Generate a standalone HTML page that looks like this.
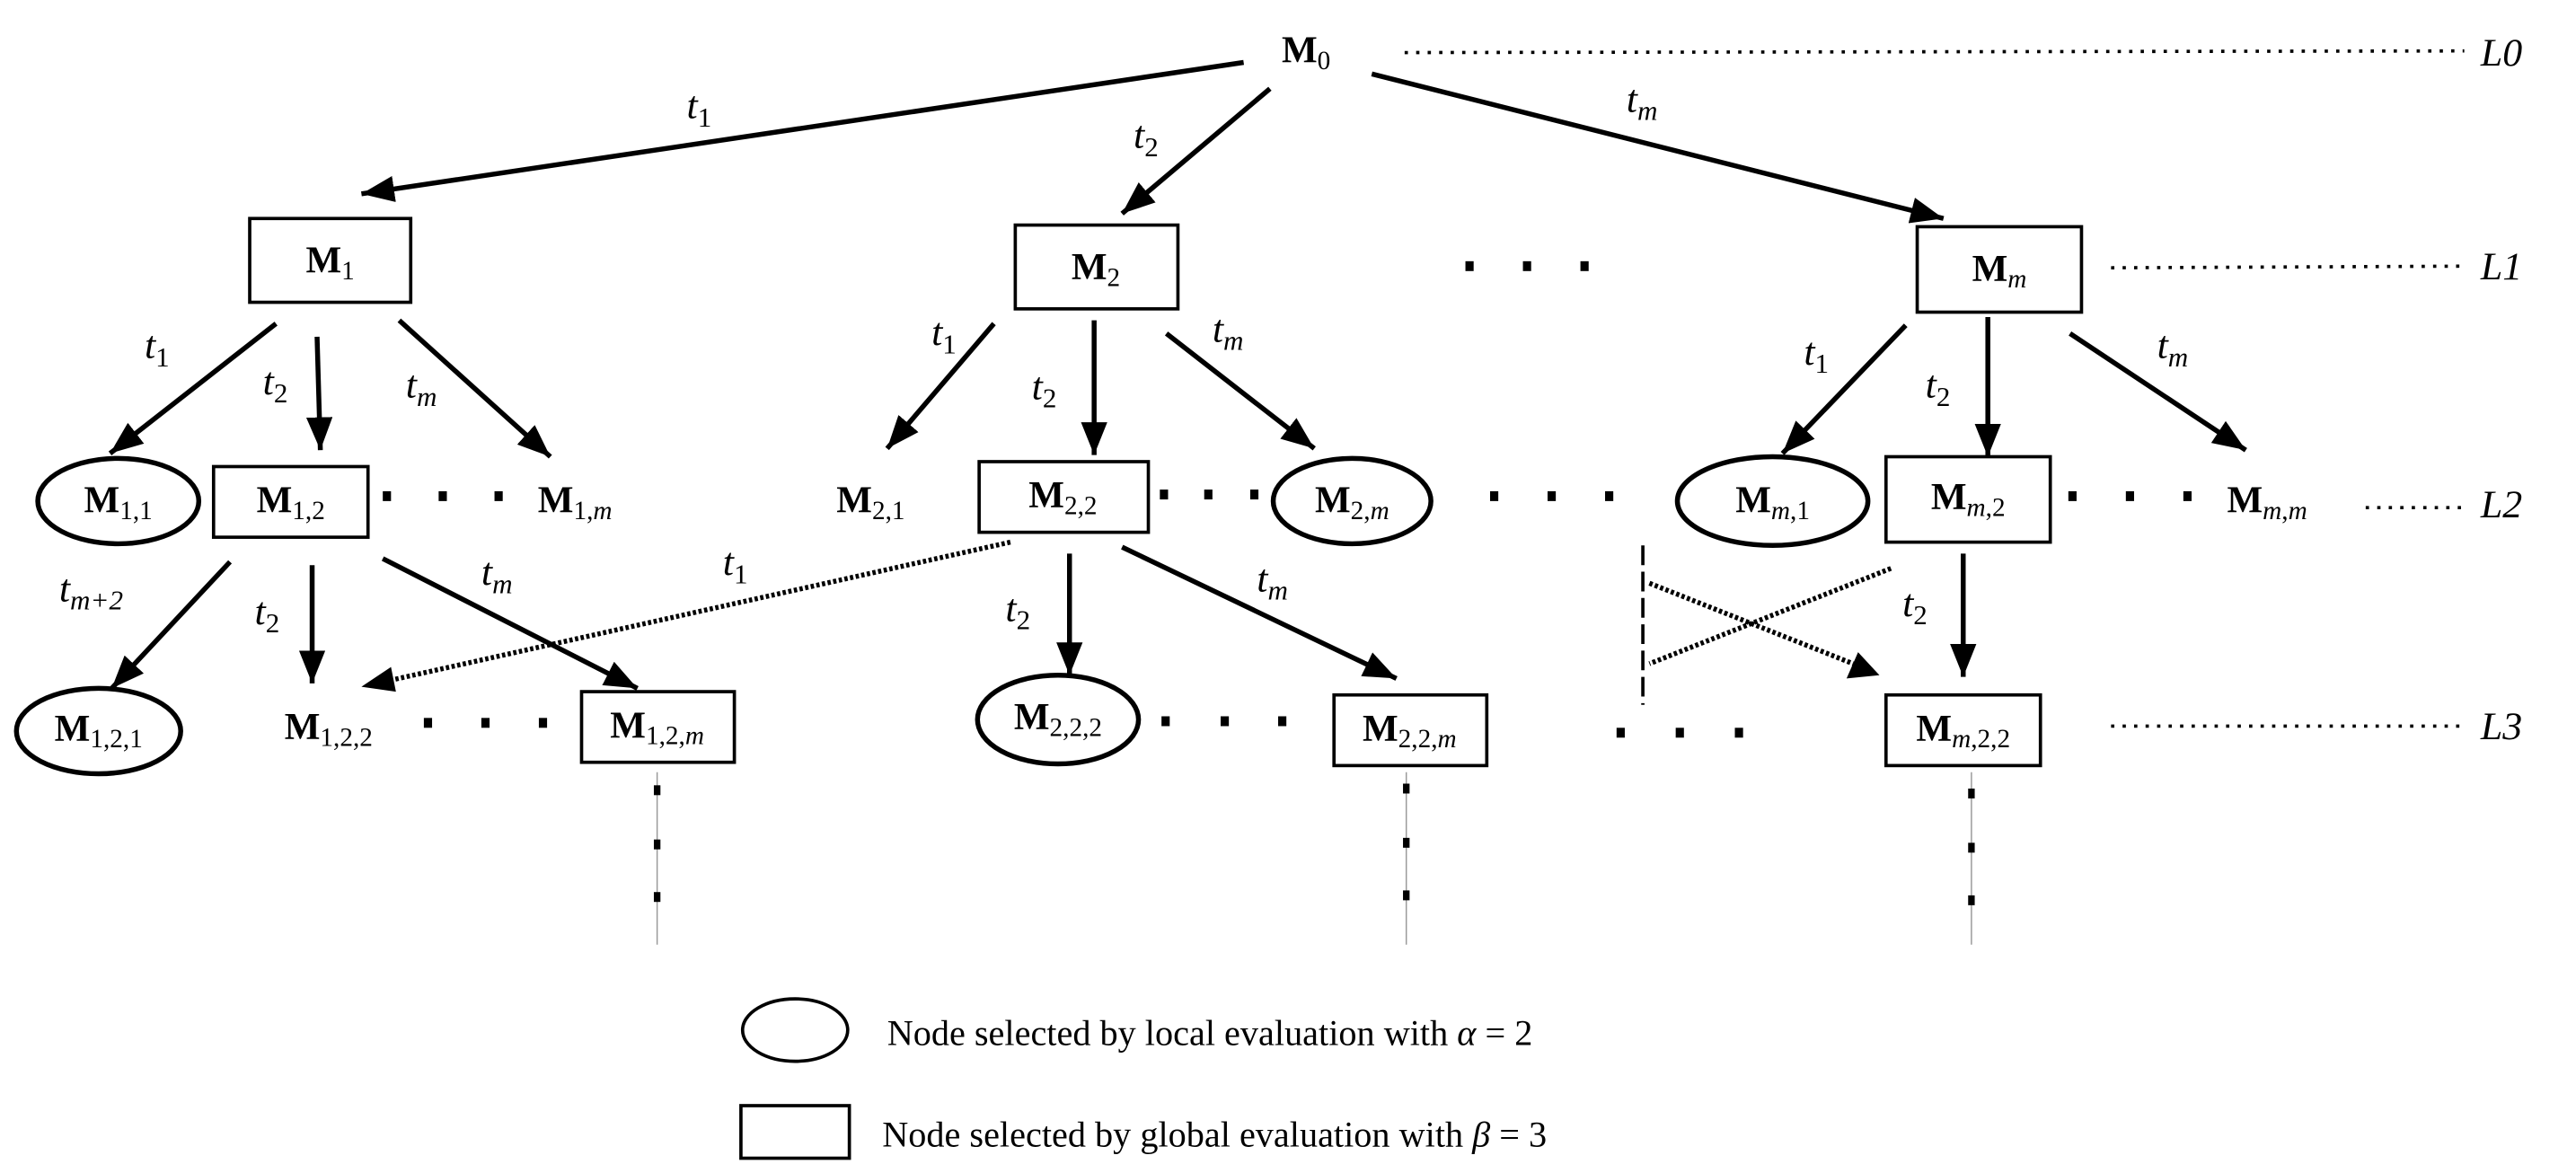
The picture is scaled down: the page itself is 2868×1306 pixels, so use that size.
<!DOCTYPE html>
<html><head><meta charset="utf-8"><style>
html,body{margin:0;padding:0;background:#fff;}
svg{display:block;}
.n{font-family:"Liberation Serif",serif;font-weight:bold;font-size:23px;fill:#000;}
.s{font-weight:normal;font-size:16px;}
.t{font-family:"Liberation Serif",serif;font-style:italic;font-size:24px;fill:#000;}
.ts{font-size:17px;font-style:normal;}
.i{font-style:italic;}
.lg{font-family:"Liberation Serif",serif;font-size:22px;fill:#000;}
.a{stroke:#000;stroke-width:3;fill:none;marker-end:url(#ah);}
.d{stroke:#000;stroke-width:3;fill:none;stroke-dasharray:2 1.5;}
.bx{fill:#fff;stroke:#000;stroke-width:2;}
.el{fill:#fff;stroke:#000;stroke-width:3;}
.lv{stroke:#000;stroke-width:2;stroke-dasharray:2 5;}
</style></head><body>
<svg width="2868" height="1306" viewBox="0 0 1568 714" preserveAspectRatio="none" xmlns="http://www.w3.org/2000/svg">
<defs>
<marker id="ah" markerUnits="userSpaceOnUse" markerWidth="22" markerHeight="18" refX="20" refY="8" orient="auto">
<path d="M0,0 L20,8 L0,16 Z" fill="#000"/>
</marker>
</defs>

<!-- M0 -->
<text class="n" x="795" y="38" text-anchor="middle">M<tspan class="s" dy="4">0</tspan></text>
<line class="lv" x1="855" y1="32" x2="1500" y2="31"/>
<text class="t" x="1510" y="40">L0</text>

<!-- top arrows -->
<line class="a" x1="757" y1="38" x2="220" y2="118"/>
<text class="t" x="418" y="72">t<tspan class="ts" dy="5">1</tspan></text>
<line class="a" x1="773" y1="54" x2="683" y2="130"/>
<text class="t" x="690" y="90">t<tspan class="ts" dy="5">2</tspan></text>
<line class="a" x1="835" y1="45" x2="1183" y2="133"/>
<text class="t" x="990" y="68">t<tspan class="ts i" dy="5">m</tspan></text>

<!-- L1 -->
<rect class="bx" x="152" y="133" width="98" height="51"/>
<text class="n" x="201" y="166" text-anchor="middle">M<tspan class="s" dy="4">1</tspan></text>
<rect class="bx" x="618" y="137" width="99" height="51"/>
<text class="n" x="667" y="170" text-anchor="middle">M<tspan class="s" dy="4">2</tspan></text>
<g fill="#000">
<rect x="892" y="159" width="5" height="6"/><rect x="927" y="159" width="5" height="6"/><rect x="962" y="159" width="5" height="6"/>
</g>
<rect class="bx" x="1167" y="138" width="100" height="52"/>
<text class="n" x="1217" y="171" text-anchor="middle">M<tspan class="s i" dy="4">m</tspan></text>
<line class="lv" x1="1285" y1="163" x2="1500" y2="162"/>
<text class="t" x="1510" y="170">L1</text>

<!-- M1 children -->
<line class="a" x1="168" y1="197" x2="67" y2="276"/>
<text class="t" x="88" y="218">t<tspan class="ts" dy="5">1</tspan></text>
<line class="a" x1="193" y1="205" x2="195" y2="274"/>
<text class="t" x="160" y="240">t<tspan class="ts" dy="5">2</tspan></text>
<line class="a" x1="243" y1="195" x2="335" y2="278"/>
<text class="t" x="247" y="242">t<tspan class="ts i" dy="5">m</tspan></text>

<!-- M2 children -->
<line class="a" x1="605" y1="197" x2="540" y2="273"/>
<text class="t" x="567" y="210">t<tspan class="ts" dy="5">1</tspan></text>
<line class="a" x1="666" y1="195" x2="666" y2="277"/>
<text class="t" x="628" y="243">t<tspan class="ts" dy="5">2</tspan></text>
<line class="a" x1="710" y1="203" x2="800" y2="273"/>
<text class="t" x="738" y="208">t<tspan class="ts i" dy="5">m</tspan></text>

<!-- Mm children -->
<line class="a" x1="1160" y1="198" x2="1085" y2="276"/>
<text class="t" x="1098" y="222">t<tspan class="ts" dy="5">1</tspan></text>
<line class="a" x1="1210" y1="193" x2="1210" y2="278"/>
<text class="t" x="1172" y="242">t<tspan class="ts" dy="5">2</tspan></text>
<line class="a" x1="1260" y1="203" x2="1367" y2="274"/>
<text class="t" x="1313" y="218">t<tspan class="ts i" dy="5">m</tspan></text>

<!-- L2 row -->
<ellipse class="el" cx="72" cy="305" rx="49" ry="26"/>
<text class="n" x="72" y="312" text-anchor="middle">M<tspan class="s" dy="4">1,1</tspan></text>
<rect class="bx" x="130" y="284" width="94" height="43"/>
<text class="n" x="177" y="312" text-anchor="middle">M<tspan class="s" dy="4">1,2</tspan></text>
<text class="n" x="350" y="312" text-anchor="middle">M<tspan class="s" dy="4">1,<tspan class="i">m</tspan></tspan></text>
<text class="n" x="530" y="312" text-anchor="middle">M<tspan class="s" dy="4">2,1</tspan></text>
<rect class="bx" x="596" y="281" width="103" height="43"/>
<text class="n" x="647" y="309" text-anchor="middle">M<tspan class="s" dy="4">2,2</tspan></text>
<ellipse class="el" cx="823" cy="305" rx="48" ry="26"/>
<text class="n" x="823" y="312" text-anchor="middle">M<tspan class="s" dy="4">2,<tspan class="i">m</tspan></tspan></text>
<ellipse class="el" cx="1079" cy="305" rx="58" ry="27"/>
<text class="n" x="1079" y="312" text-anchor="middle">M<tspan class="s" dy="4"><tspan class="i">m</tspan>,1</tspan></text>
<rect class="bx" x="1148" y="278" width="100" height="52"/>
<text class="n" x="1198" y="310" text-anchor="middle">M<tspan class="s" dy="4"><tspan class="i">m</tspan>,2</tspan></text>
<text class="n" x="1380" y="312" text-anchor="middle">M<tspan class="s" dy="4"><tspan class="i">m</tspan>,<tspan class="i">m</tspan></tspan></text>
<line class="lv" x1="1440" y1="309" x2="1500" y2="309"/>
<text class="t" x="1510" y="315">L2</text>
<g fill="#000">
<rect x="233" y="299" width="5" height="6"/><rect x="267" y="299" width="5" height="6"/><rect x="301" y="299" width="5" height="6"/>
<rect x="706" y="298" width="5" height="6"/><rect x="733" y="298" width="5" height="6"/><rect x="761" y="298" width="5" height="6"/>
<rect x="907" y="299" width="5" height="6"/><rect x="942" y="299" width="5" height="6"/><rect x="977" y="299" width="5" height="6"/>
<rect x="1259" y="299" width="5" height="6"/><rect x="1294" y="299" width="5" height="6"/><rect x="1329" y="299" width="5" height="6"/>
</g>

<!-- M1,2 children -->
<line class="a" x1="140" y1="342" x2="68" y2="419"/>
<text class="t" x="36" y="366">t<tspan class="ts i" dy="5">m+2</tspan></text>
<line class="a" x1="190" y1="344" x2="190" y2="416"/>
<text class="t" x="155" y="380">t<tspan class="ts" dy="5">2</tspan></text>
<line class="a" x1="233" y1="340" x2="388" y2="419"/>
<text class="t" x="293" y="356">t<tspan class="ts i" dy="5">m</tspan></text>
<line class="d" x1="615" y1="330" x2="238" y2="414"/>
<path d="M220,418 L238,406 L241,421 Z" fill="#000"/>
<text class="t" x="440" y="350">t<tspan class="ts" dy="5">1</tspan></text>

<!-- M2,2 children -->
<line class="a" x1="651" y1="337" x2="651" y2="411"/>
<text class="t" x="612" y="378">t<tspan class="ts" dy="5">2</tspan></text>
<line class="a" x1="683" y1="333" x2="850" y2="413"/>
<text class="t" x="765" y="360">t<tspan class="ts i" dy="5">m</tspan></text>

<!-- right cross -->
<line x1="1000" y1="332" x2="1000" y2="429" stroke="#000" stroke-width="2" stroke-dasharray="12 4"/>
<line class="d" x1="1004" y1="355" x2="1128" y2="404"/>
<path d="M1144,411 L1124,413 L1131,397 Z" fill="#000"/>
<line class="d" x1="1151" y1="346" x2="1004" y2="404"/>
<line class="a" x1="1195" y1="337" x2="1195" y2="412"/>
<text class="t" x="1158" y="375">t<tspan class="ts" dy="5">2</tspan></text>

<!-- L3 row -->
<ellipse class="el" cx="60" cy="445" rx="50" ry="26"/>
<text class="n" x="60" y="451" text-anchor="middle">M<tspan class="s" dy="4">1,2,1</tspan></text>
<text class="n" x="200" y="450" text-anchor="middle">M<tspan class="s" dy="4">1,2,2</tspan></text>
<rect class="bx" x="354" y="421" width="93" height="43"/>
<text class="n" x="400" y="449" text-anchor="middle">M<tspan class="s" dy="4">1,2,<tspan class="i">m</tspan></tspan></text>
<ellipse class="el" cx="644" cy="438" rx="49" ry="27"/>
<text class="n" x="644" y="444" text-anchor="middle">M<tspan class="s" dy="4">2,2,2</tspan></text>
<rect class="bx" x="812" y="423" width="93" height="43"/>
<text class="n" x="858" y="451" text-anchor="middle">M<tspan class="s" dy="4">2,2,<tspan class="i">m</tspan></tspan></text>
<rect class="bx" x="1148" y="423" width="94" height="43"/>
<text class="n" x="1195" y="451" text-anchor="middle">M<tspan class="s" dy="4"><tspan class="i">m</tspan>,2,2</tspan></text>
<line class="lv" x1="1285" y1="442" x2="1500" y2="442"/>
<text class="t" x="1510" y="450">L3</text>
<g fill="#000">
<rect x="258" y="437" width="5" height="6"/><rect x="293" y="437" width="5" height="6"/><rect x="328" y="437" width="5" height="6"/>
<rect x="707" y="436" width="5" height="6"/><rect x="743" y="436" width="5" height="6"/><rect x="778" y="436" width="5" height="6"/>
<rect x="984" y="443" width="5" height="6"/><rect x="1020" y="443" width="5" height="6"/><rect x="1056" y="443" width="5" height="6"/>
</g>

<!-- continuation -->
<g stroke="#999" stroke-width="0.8">
<line x1="400" y1="470" x2="400" y2="575"/>
<line x1="856" y1="470" x2="856" y2="575"/>
<line x1="1200" y1="470" x2="1200" y2="575"/>
</g>
<g fill="#000">
<rect x="398" y="478" width="4" height="6"/><rect x="398" y="511" width="4" height="6"/><rect x="398" y="543" width="4" height="6"/>
<rect x="854" y="477" width="4" height="6"/><rect x="854" y="510" width="4" height="6"/><rect x="854" y="542" width="4" height="6"/>
<rect x="1198" y="480" width="4" height="6"/><rect x="1198" y="513" width="4" height="6"/><rect x="1198" y="545" width="4" height="6"/>
</g>

<!-- legend -->
<ellipse cx="484" cy="627" rx="32" ry="19" fill="#fff" stroke="#000" stroke-width="2"/>
<text class="lg" x="540" y="636">Node selected by local evaluation with <tspan font-style="italic">α</tspan> = 2</text>
<rect x="451" y="673" width="66" height="32" fill="#fff" stroke="#000" stroke-width="2"/>
<text class="lg" x="537" y="698">Node selected by global evaluation with <tspan font-style="italic">β</tspan> = 3</text>
</svg>
</body></html>
